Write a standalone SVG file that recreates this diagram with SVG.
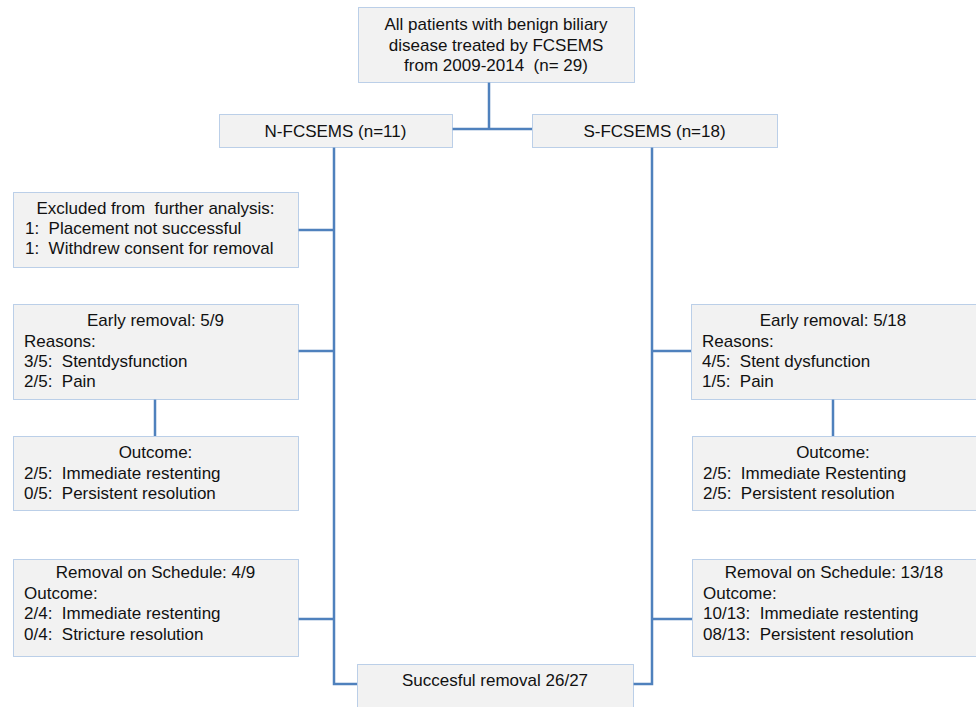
<svg xmlns="http://www.w3.org/2000/svg" width="976" height="707" viewBox="0 0 976 707">
<style>
.box{fill:#f2f2f2;stroke:#7fa6d8;stroke-width:1;stroke-dasharray:1 1}
.t{font-family:"Liberation Sans",Arial,sans-serif;font-size:17px;fill:#111}
.c{text-anchor:middle}
.conn{fill:none;stroke:#4f81bd;stroke-width:2.5}
</style>
<rect width="976" height="707" fill="#fff"/>
<g id="connectors">
<path class="conn" d="M489 82V129M452 129H532"/>
<path class="conn" d="M334 147V684H357"/>
<path class="conn" d="M652 147V684H633"/>
<path class="conn" d="M298 230H334M298 351H334M298 619H334"/>
<path class="conn" d="M652 351H691M652 619H692"/>
<path class="conn" d="M155 399V436M833 399V436"/>
</g>
<g id="all">
<rect class="box" x="358.5" y="7.5" width="276" height="75"/>
<text class="t c" x="496" y="30" xml:space="preserve">All patients with benign biliary</text>
<text class="t c" x="496" y="51">disease treated by FCSEMS</text>
<text class="t c" x="496" y="71" xml:space="preserve">from 2009-2014  (n= 29)</text>
</g>
<g id="nfc">
<rect class="box" x="219.5" y="114.5" width="233" height="33"/>
<text class="t c" x="335.5" y="137">N-FCSEMS (n=11)</text>
</g>
<g id="sfc">
<rect class="box" x="532.5" y="114.5" width="245" height="33"/>
<text class="t c" x="654.5" y="137">S-FCSEMS (n=18)</text>
</g>
<g id="excluded">
<rect class="box" x="13.5" y="192.5" width="285" height="75"/>
<text class="t c" x="155.5" y="214" xml:space="preserve">Excluded from  further analysis:</text>
<text class="t" x="25" y="234" xml:space="preserve">1:  Placement not successful</text>
<text class="t" x="25" y="254" xml:space="preserve">1:  Withdrew consent for removal</text>
</g>
<g id="early-n">
<rect class="box" x="13.5" y="304.5" width="285" height="95"/>
<text class="t c" x="155.5" y="326">Early removal: 5/9</text>
<text class="t" x="24" y="347">Reasons:</text>
<text class="t" x="24" y="367" xml:space="preserve">3/5:  Stentdysfunction</text>
<text class="t" x="24" y="387" xml:space="preserve">2/5:  Pain</text>
</g>
<g id="outcome-n">
<rect class="box" x="13.5" y="436.5" width="285" height="74"/>
<text class="t c" x="155.5" y="458">Outcome:</text>
<text class="t" x="24" y="479" xml:space="preserve">2/5:  Immediate restenting</text>
<text class="t" x="24" y="499" xml:space="preserve">0/5:  Persistent resolution</text>
</g>
<g id="schedule-n">
<rect class="box" x="13.5" y="559.5" width="285" height="97"/>
<text class="t c" x="155.5" y="578">Removal on Schedule: 4/9</text>
<text class="t" x="24" y="599">Outcome:</text>
<text class="t" x="24" y="619" xml:space="preserve">2/4:  Immediate restenting</text>
<text class="t" x="24" y="640" xml:space="preserve">0/4:  Stricture resolution</text>
</g>
<g id="early-s">
<rect class="box" x="691.5" y="304.5" width="290" height="95"/>
<text class="t c" x="833" y="326">Early removal: 5/18</text>
<text class="t" x="702" y="347">Reasons:</text>
<text class="t" x="702" y="367" xml:space="preserve">4/5:  Stent dysfunction</text>
<text class="t" x="702" y="387" xml:space="preserve">1/5:  Pain</text>
</g>
<g id="outcome-s">
<rect class="box" x="692.5" y="436.5" width="290" height="74"/>
<text class="t c" x="833" y="458">Outcome:</text>
<text class="t" x="703" y="479" xml:space="preserve">2/5:  Immediate Restenting</text>
<text class="t" x="703" y="499" xml:space="preserve">2/5:  Persistent resolution</text>
</g>
<g id="schedule-s">
<rect class="box" x="692.5" y="559.5" width="290" height="97"/>
<text class="t c" x="834" y="578">Removal on Schedule: 13/18</text>
<text class="t" x="703" y="599">Outcome:</text>
<text class="t" x="703" y="619" xml:space="preserve">10/13:  Immediate restenting</text>
<text class="t" x="703" y="640" xml:space="preserve">08/13:  Persistent resolution</text>
</g>
<g id="success">
<rect class="box" x="357.5" y="664.5" width="276" height="50"/>
<text class="t c" x="495" y="686">Succesful removal 26/27</text>
</g>
</svg>
